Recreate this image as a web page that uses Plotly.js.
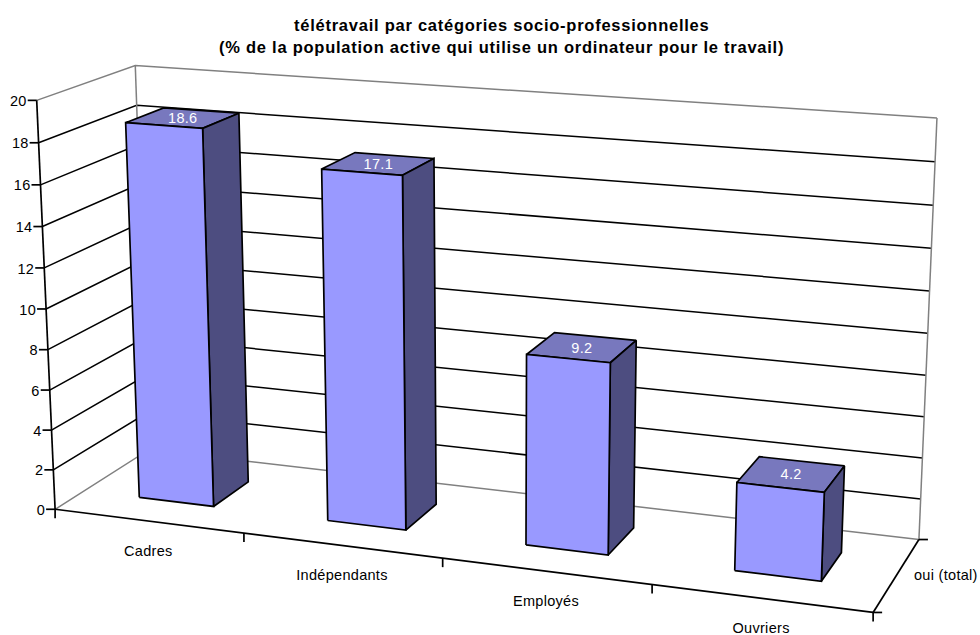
<!DOCTYPE html>
<html><head><meta charset="utf-8">
<script src="https://cdn.plot.ly/plotly-3.0.1.min.js"></script>
<style>html,body{margin:0;padding:0;background:#fff}#c{width:980px;height:635px}
.textpoint text{letter-spacing:.3px}
.annotation-text{letter-spacing:.75px}</style>
</head><body><div id="c"></div>
<script>
const categories = ['Cadres','Indépendants','Employés','Ouvriers'];
const values = [18.6,17.1,9.2,4.2];
const valueTicks = [0,2,4,6,8,10,12,14,16,18,20];
const seriesName = 'oui (total)';
const titleLines = ['télétravail par catégories socio-professionnelles','(% de la population active qui utilise un ordinateur pour le travail)'];

// calibration of the oblique view: [category u, value, depth d] -> picture position
const calib = [
 [0,0,0,55,510],[0,20,0,37,100],[0,20,1,135,66],[0,0,1,149,449],
 [1,20,1,937,118],[1,0,1,919,540],[1,0,0,873,612],[0,10,0,46,309]
];
const barHalf = 0.05, depth0 = 0.30, depth1 = 0.70;

function solve(A,b){const n=b.length;const M=A.map((r,i)=>[...r,b[i]]);
 for(let i=0;i<n;i++){let p=i;for(let k=i;k<n;k++)if(Math.abs(M[k][i])>Math.abs(M[p][i]))p=k;[M[i],M[p]]=[M[p],M[i]];
  for(let k=0;k<n;k++)if(k!==i){const f=M[k][i]/M[i][i];for(let j=i;j<=n;j++)M[k][j]-=f*M[i][j];}}
 return M.map((r,i)=>r[n]/r[i]);}
function fit(){const rows=[],rhs=[];
 for(const [u,v0,d,x,y] of calib){const v=v0/20;
  rows.push([u,v,d,1,0,0,0,0,-x*u,-x*v,-x*d]);rhs.push(x);
  rows.push([0,0,0,0,u,v,d,1,-y*u,-y*v,-y*d]);rhs.push(y);}
 const n=11,A=[],b=[];
 for(let i=0;i<n;i++){A.push([]);let s=0;for(let j=0;j<n;j++){let t=0;rows.forEach(r=>t+=r[i]*r[j]);A[i].push(t);}
  rows.forEach((r,k)=>s+=r[i]*rhs[k]);b.push(s);}
 return solve(A,b);}
const P=fit();
function pr(u,val,d){const v=val/20,w=P[8]*u+P[9]*v+P[10]*d+1;
 return [(P[0]*u+P[1]*v+P[2]*d+P[3])/w,(P[4]*u+P[5]*v+P[6]*d+P[7])/w];}

const traces=[];
function line(pts,color,width){traces.push({type:'scatter',mode:'lines',x:pts.map(p=>p[0]),y:pts.map(p=>p[1]),
  line:{color:color,width:width},hoverinfo:'skip',showlegend:false});}
function face(pts,fill){const c=[...pts,pts[0]];traces.push({type:'scatter',mode:'lines',x:c.map(p=>p[0]),y:c.map(p=>p[1]),
  fill:'toself',fillcolor:fill,line:{color:'#000',width:1.7},hoverinfo:'skip',showlegend:false});}
function label(p,t,color,size,anchor){traces.push({type:'scatter',mode:'text',x:[p[0]],y:[p[1]],text:[t],textposition:anchor||'middle center',
  textfont:{family:'Liberation Sans, Arial, sans-serif',size:size||14.5,color:color||'#000'},hoverinfo:'skip',showlegend:false});}

const GRAY='#808080';
// walls
valueTicks.forEach(t=>{
 const col=(t===0||t===20)?GRAY:'#000';
 line([pr(0,t,0),pr(0,t,1),pr(1,t,1)],col,1.5);
});
line([pr(0,0,1),pr(0,20,1)],GRAY,1.5);
line([pr(1,0,1),pr(1,20,1)],GRAY,1.5);
// axes
line([pr(0,0,0),pr(0,20,0)],'#000',1.7);
line([pr(0,0,0),pr(1,0,0)],'#000',1.7);
line([pr(1,0,0),pr(1,0,1)],'#000',1.7);
valueTicks.forEach(t=>{const p=pr(0,t,0);line([[p[0]-9,p[1]],p],'#000',1.7);
 label([p[0]-10,p[1]+2],String(t),'#000',14.5,'middle left');});
categories.forEach((c,i)=>{const u=i/4;const p=pr(u,0,0);line([p,[p[0],p[1]+9]],'#000',1.7);
 const m=pr((i+.5)/4,0,0);label([m[0],m[1]+31],c,'#000',14.5);});
{const p=pr(1,0,0);line([p,[p[0],p[1]+9]],'#000',1.7);line([p,[p[0]+9,p[1]]],'#000',1.7);
 const q=pr(1,0,1);line([q,[q[0]+9,q[1]]],'#000',1.7);
 const m=pr(1,0,.5);label([m[0]+49,m[1]+2],seriesName,'#000',14.5);}
// bars
values.forEach((val,i)=>{const c=(i+.5)/4,a=c-barHalf,b=c+barHalf;
 face([pr(a,val,depth0),pr(b,val,depth0),pr(b,val,depth1),pr(a,val,depth1)],'#7878BE');
 face([pr(b,0,depth0),pr(b,val,depth0),pr(b,val,depth1),pr(b,0,depth1)],'#4D4D80');
 face([pr(a,0,depth0),pr(b,0,depth0),pr(b,val,depth0),pr(a,val,depth0)],'#9999FF');
 const m=pr(c,val,(depth0+depth1)/2);
 label([m[0],m[1]+1.5],val.toFixed(1),'#fff',14.5);
});
const layout={width:980,height:635,margin:{l:0,r:0,t:0,b:0},paper_bgcolor:'#fff',plot_bgcolor:'#fff',showlegend:false,
 xaxis:{range:[0,980],visible:false,fixedrange:true},
 yaxis:{range:[635,0],visible:false,fixedrange:true},
 annotations:titleLines.map((t,i)=>({text:'<b>'+t+'</b>',xref:'paper',yref:'paper',x:501/980,xanchor:'center',y:1-(25+i*22.5)/635,yanchor:'middle',showarrow:false,
   font:{family:'Liberation Sans, Arial, sans-serif',size:16.5,color:'#000'}}))};
Plotly.newPlot('c',traces,layout,{displayModeBar:false,staticPlot:true});
</script></body></html>
